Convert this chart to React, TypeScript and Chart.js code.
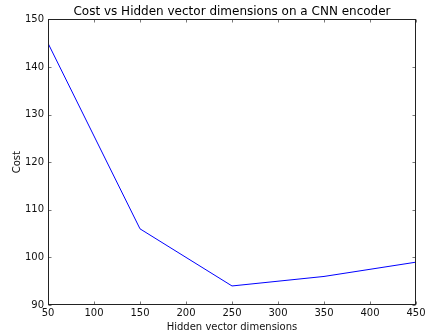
import { useEffect, useRef } from "react";
import { Chart, registerables } from "chart.js";

Chart.register(...registerables);

const titleText = "Cost vs Hidden vector dimensions on a CNN encoder";
const xLabel = "Hidden vector dimensions";
const yLabel = "Cost";
const dims = [50, 150, 250, 350, 450];
const cost = [145, 106, 94, 96, 99];
const xTicks = [50, 100, 150, 200, 250, 300, 350, 400, 450];
const yTicks = [90, 100, 110, 120, 130, 140, 150];

const framePlugin = {
  id: "frame",
  afterDatasetsDraw(chart: any) {
    const { ctx, chartArea: a, scales } = chart;
    const x = scales.x;
    const y = scales.y;
    const L = 3;
    ctx.save();
    const l = Math.round(a.left) + 0.5;
    const r = Math.round(a.right) - 0.5;
    const t = Math.round(a.top) + 0.5;
    const b = Math.round(a.bottom) - 0.5;
    ctx.lineWidth = 1;
    ctx.strokeStyle = "#777";
    ctx.beginPath();
    xTicks.forEach((v) => {
      const px = Math.round(x.getPixelForValue(v)) + 0.5;
      ctx.moveTo(px, b);
      ctx.lineTo(px, b - L);
      ctx.moveTo(px, t);
      ctx.lineTo(px, t + L);
    });
    yTicks.forEach((v) => {
      const py = Math.round(y.getPixelForValue(v)) + 0.5;
      ctx.moveTo(l, py);
      ctx.lineTo(l + L, py);
      ctx.moveTo(r, py);
      ctx.lineTo(r - L, py);
    });
    ctx.stroke();
    ctx.strokeStyle = "#222";
    ctx.strokeRect(l, t, r - l, b - t);
    ctx.restore();
  },
};

export default function App() {
  const ref = useRef<HTMLCanvasElement | null>(null);
  useEffect(() => {
    if (!ref.current) return;
    Chart.defaults.font.family = "'DejaVu Sans', sans-serif";
    const chart = new Chart(ref.current, {
      type: "line",
      data: {
        datasets: [
          {
            data: dims.map((d, i) => ({ x: d, y: cost[i] })),
            borderColor: "#0000ff",
            borderWidth: 1,
            pointRadius: 0,
            tension: 0,
            fill: false,
          },
        ],
      },
      options: {
        responsive: false,
        animation: false,
        events: [],
        layout: { padding: { left: 0, right: 10, top: 0, bottom: 0 } },
        plugins: {
          legend: { display: false },
          tooltip: { enabled: false },
          title: {
            display: true,
            text: titleText,
            fullSize: false,
            color: "#000",
            font: { size: 12, weight: "normal" },
            padding: { top: 5, bottom: 0 },
          },
        },
        scales: {
          x: {
            type: "linear",
            min: 50,
            max: 450,
            afterBuildTicks: (s: any) => {
              s.ticks = xTicks.map((v) => ({ value: v }));
            },
            afterFit: (s: any) => {
              s.height = 30;
              s.paddingRight = 0;
              s.paddingLeft = 0;
            },
            grid: { display: false, drawTicks: false },
            border: { display: false },
            ticks: { color: "#111", font: { size: 10 }, padding: 2, maxRotation: 0, autoSkip: false },
            title: { display: true, text: xLabel, color: "#111", font: { size: 10 }, padding: { top: 0, bottom: 2 } },
          },
          y: {
            type: "linear",
            min: 90,
            max: 150,
            afterBuildTicks: (s: any) => {
              s.ticks = yTicks.map((v) => ({ value: v }));
            },
            afterFit: (s: any) => {
              s.width = 48;
            },
            grid: { display: false, drawTicks: false },
            border: { display: false },
            ticks: { color: "#111", font: { size: 10 }, padding: 4, autoSkip: false },
            title: { display: true, text: yLabel, color: "#111", font: { size: 10 }, padding: { top: 11, bottom: 0 } },
          },
        },
      },
      plugins: [framePlugin],
    });
    return () => chart.destroy();
  }, []);
  return (
    <div style={{ position: "fixed", left: 0, top: 0, width: 426, height: 335, background: "#fff" }}>
      <canvas ref={ref} width={426} height={335} />
    </div>
  );
}
